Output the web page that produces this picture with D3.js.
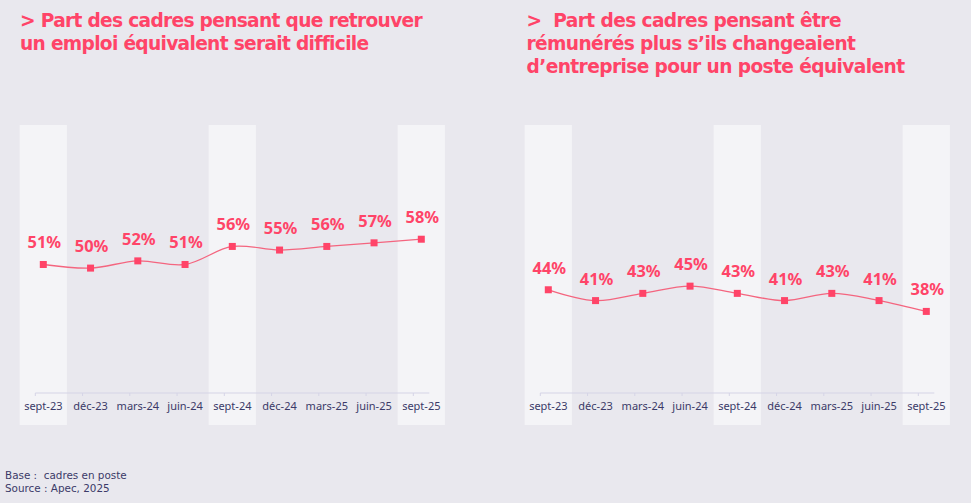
<!DOCTYPE html>
<html><head><meta charset="utf-8">
<script src="https://cdn.jsdelivr.net/npm/d3@7"></script>
<style>
html,body{margin:0;padding:0;background:#E9E8EE;}
svg{display:block;}
</style></head>
<body>
<svg id="chart" width="971" height="503"></svg>
<script>
const categories = ["sept-23","déc-23","mars-24","juin-24","sept-24","déc-24","mars-25","juin-25","sept-25"];
const valuesDifficile = [51, 50, 52, 51, 56, 55, 56, 57, 58];
const valuesRemuneres = [44, 41, 43, 45, 43, 41, 43, 41, 38];
const highlighted = ["sept-23","sept-24","sept-25"];
const titleLeft = ["> Part des cadres pensant que retrouver", "un emploi équivalent serait difficile"];
const titleRight = [">  Part des cadres pensant être", "rémunérés plus s\u2019ils changeaient", "d\u2019entreprise pour un poste équivalent"];
const footer = ["Base :  cadres en poste", "Source : Apec, 2025"];

const PINK = "#FF4468", LINE = "#F4657F", NAVY = "#3B3A68", BAND = "#F4F4F7";
const FONT = "'Noto Sans', sans-serif";
const TFONT = "'DejaVu Sans', sans-serif";
const svg = d3.select("#chart");
svg.append("rect").attr("width",971).attr("height",503).attr("fill","#E9E8EE");

// titles: one text per line; letter-spacing fitted so the reference line keeps its width
function drawTitle(lines, x, y0, dy, refLine, refWidth){
  const fs = 18.6;
  const probe = svg.append("text").attr("font-family",TFONT).attr("font-weight","bold")
    .attr("font-size",fs).attr("xml:space","preserve").text(lines[refLine]);
  const w = probe.node().getComputedTextLength();
  probe.remove();
  const ls = (refWidth - w) / lines[refLine].length;
  lines.forEach((l,i)=>svg.append("text").attr("x",x).attr("y",y0+i*dy)
    .attr("font-family",TFONT).attr("font-weight","bold").attr("font-size",fs)
    .attr("letter-spacing", ls)
    .attr("fill",PINK).attr("xml:space","preserve").text(l));
}
drawTitle(titleLeft, 20, 26.5, 23.4, 0, 402);
drawTitle(titleRight, 526.5, 26.5, 23.0, 2, 378);

const y = d3.scaleLinear().domain([0,100]).range([448.6, 87.6]);
const axisY = 393, bandTop = 125, bandBottom = 425;

function drawPanel(values, x0){
  const step = 47.25;
  const x = d3.scalePoint().domain(categories).range([x0, x0 + step*(categories.length-1)]);
  const g = svg.append("g");
  g.selectAll("rect.band").data(highlighted).join("rect")
    .attr("x", d=>x(d)-step/2).attr("width", step)
    .attr("y", bandTop).attr("height", bandBottom-bandTop).attr("fill", BAND);
  const ax = g.append("g").attr("transform",`translate(0,${axisY})`);
  ax.append("line").attr("x1", x(categories[0])-8).attr("x2", x(categories[categories.length-1])+8)
    .attr("stroke","#D5D4E6").attr("stroke-width",1);
  ax.selectAll("line.tick").data(categories).join("line")
    .attr("x1", d=>x(d)-8).attr("x2", d=>x(d)-8).attr("y1",0).attr("y2",3)
    .attr("stroke","#D5D4E6").attr("stroke-width",1);
  ax.selectAll("text").data(categories).join("text")
    .attr("x", d=>x(d)).attr("y", 16.5).attr("text-anchor","middle")
    .attr("font-family",FONT).attr("font-size",11).attr("fill",NAVY).text(d=>d);
  const data = categories.map((c,i)=>({c, v: values[i]}));
  const line = d3.line().x(d=>x(d.c)).y(d=>y(d.v)).curve(d3.curveCatmullRom.alpha(0.5));
  g.append("path").datum(data).attr("d", line).attr("fill","none")
    .attr("stroke", LINE).attr("stroke-width", 1.3);
  g.selectAll("rect.m").data(data).join("rect")
    .attr("x", d=>x(d.c)-3.5).attr("y", d=>y(d.v)-3.5).attr("width",7).attr("height",7)
    .attr("fill", PINK);
  g.selectAll("text.lbl").data(data).join("text")
    .attr("x", d=>x(d.c)+1).attr("y", d=>y(d.v)-16).attr("text-anchor","middle")
    .attr("font-family",FONT).attr("font-weight","bold").attr("font-size",16.4)
    .attr("fill", PINK).text(d=>d.v+"%");
}
drawPanel(valuesDifficile, 43.3);
drawPanel(valuesRemuneres, 548.3);

footer.forEach((l,i)=>svg.append("text").attr("x",5).attr("y",479+i*12.8)
  .attr("font-family",TFONT).attr("font-size",10.4).attr("fill",NAVY)
  .attr("xml:space","preserve").text(l));
</script>
</body></html>
